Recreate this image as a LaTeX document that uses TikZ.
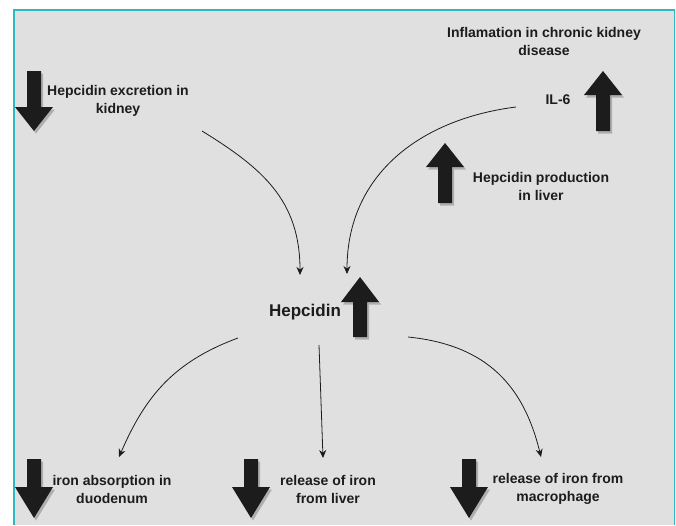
\documentclass[tikz,border=0pt]{standalone}
\usepackage{fontspec}
\setmainfont{Liberation Sans}
\usetikzlibrary{arrows.meta,calc}

\definecolor{framecol}{HTML}{2CB9C1}
\definecolor{bggray}{HTML}{E0E0E0}
\definecolor{inkcol}{HTML}{1C1C1C}

\tikzset{
  txt/.style={font=\bfseries\fontsize{14}{18}\selectfont, text=inkcol,
    align=center, inner sep=0pt},
  link/.style={-{Stealth[length=8pt,width=7pt]}, line width=0.8pt, draw=inkcol},
  % block arrow: #1 shaft length, #2 head length (negative = pointing up)
  pics/blockarrow/.style 2 args={code={
    \fill[black, opacity=.22, shift={(2,2.5)}]
      (-7,0) -- (-7,#1) -- (-19,#1) -- (0,#1+#2) -- (19,#1) -- (7,#1) -- (7,0) -- cycle;
    \fill[inkcol]
      (-7,0) -- (-7,#1) -- (-19,#1) -- (0,#1+#2) -- (19,#1) -- (7,#1) -- (7,0) -- cycle;
  }},
}

\begin{document}
\begin{tikzpicture}[x=1pt,y=-1pt]
  \useasboundingbox (0,0) rectangle (676,525);
  \fill[white] (0,0) rectangle (676,525);
  \fill[bggray] (14,10) rectangle (675,525);
  \draw[framecol, line width=1.5pt] (14,525) -- (14,10) -- (674.5,10) -- (674.5,525);

  % labels
  \node[txt] (kidney) at (118,101) {Hepcidin excretion in\\kidney};
  \node[txt] (ckd)    at (544,41.5) {Inflamation in chronic kidney\\disease};
  \node[txt] (il6)    at (558,100) {IL-6};
  \node[txt] (liver)  at (541,186) {Hepcidin production\\in liver};
  \node[txt, font=\bfseries\fontsize{17}{20}\selectfont] (hep) at (305,312) {Hepcidin};
  \node[txt] (duod)   at (112,489) {iron absorption in\\duodenum};
  \node[txt] (irliv)  at (328,489) {release of iron\\from liver};
  \node[txt] (macro)  at (558,489) {release of iron from\\macrophage};

  % up / down block arrows
  \pic at (34,71)   {blockarrow={36}{24}};
  \pic at (603,131) {blockarrow={-36}{-24}};
  \pic at (445,203) {blockarrow={-36}{-24}};
  \pic at (360,337) {blockarrow={-35}{-25}};
  \pic at (34,459)  {blockarrow={28}{31}};
  \pic at (251,459) {blockarrow={28}{31}};
  \pic at (469,459) {blockarrow={28}{31}};

  % connector ends
  \coordinate (kidney-out) at (202,131);
  \coordinate (il6-out)    at (516,107);
  \coordinate (hep-in1)    at (300,275);
  \coordinate (hep-in2)    at (347,274);
  \coordinate (hep-out1)   at (238,338);
  \coordinate (hep-out2)   at (319,345);
  \coordinate (hep-out3)   at (408,337);
  \coordinate (duod-in)    at (119,457);
  \coordinate (irliv-in)   at (323,458);
  \coordinate (macro-in)   at (541,457);

  \draw[link] (kidney-out) .. controls +(60,37) and +(0,-75) .. (hep-in1);
  \draw[link] (il6-out) .. controls +(-95,12) and +(0,-100) .. (hep-in2);
  \draw[link] (hep-out1) .. controls +(-65,24) and +(26,-60) .. (duod-in);
  \draw[link] (hep-out2) -- (irliv-in);
  \draw[link] (hep-out3) .. controls +(80,8) and +(-17,-70) .. (macro-in);
\end{tikzpicture}
\end{document}
